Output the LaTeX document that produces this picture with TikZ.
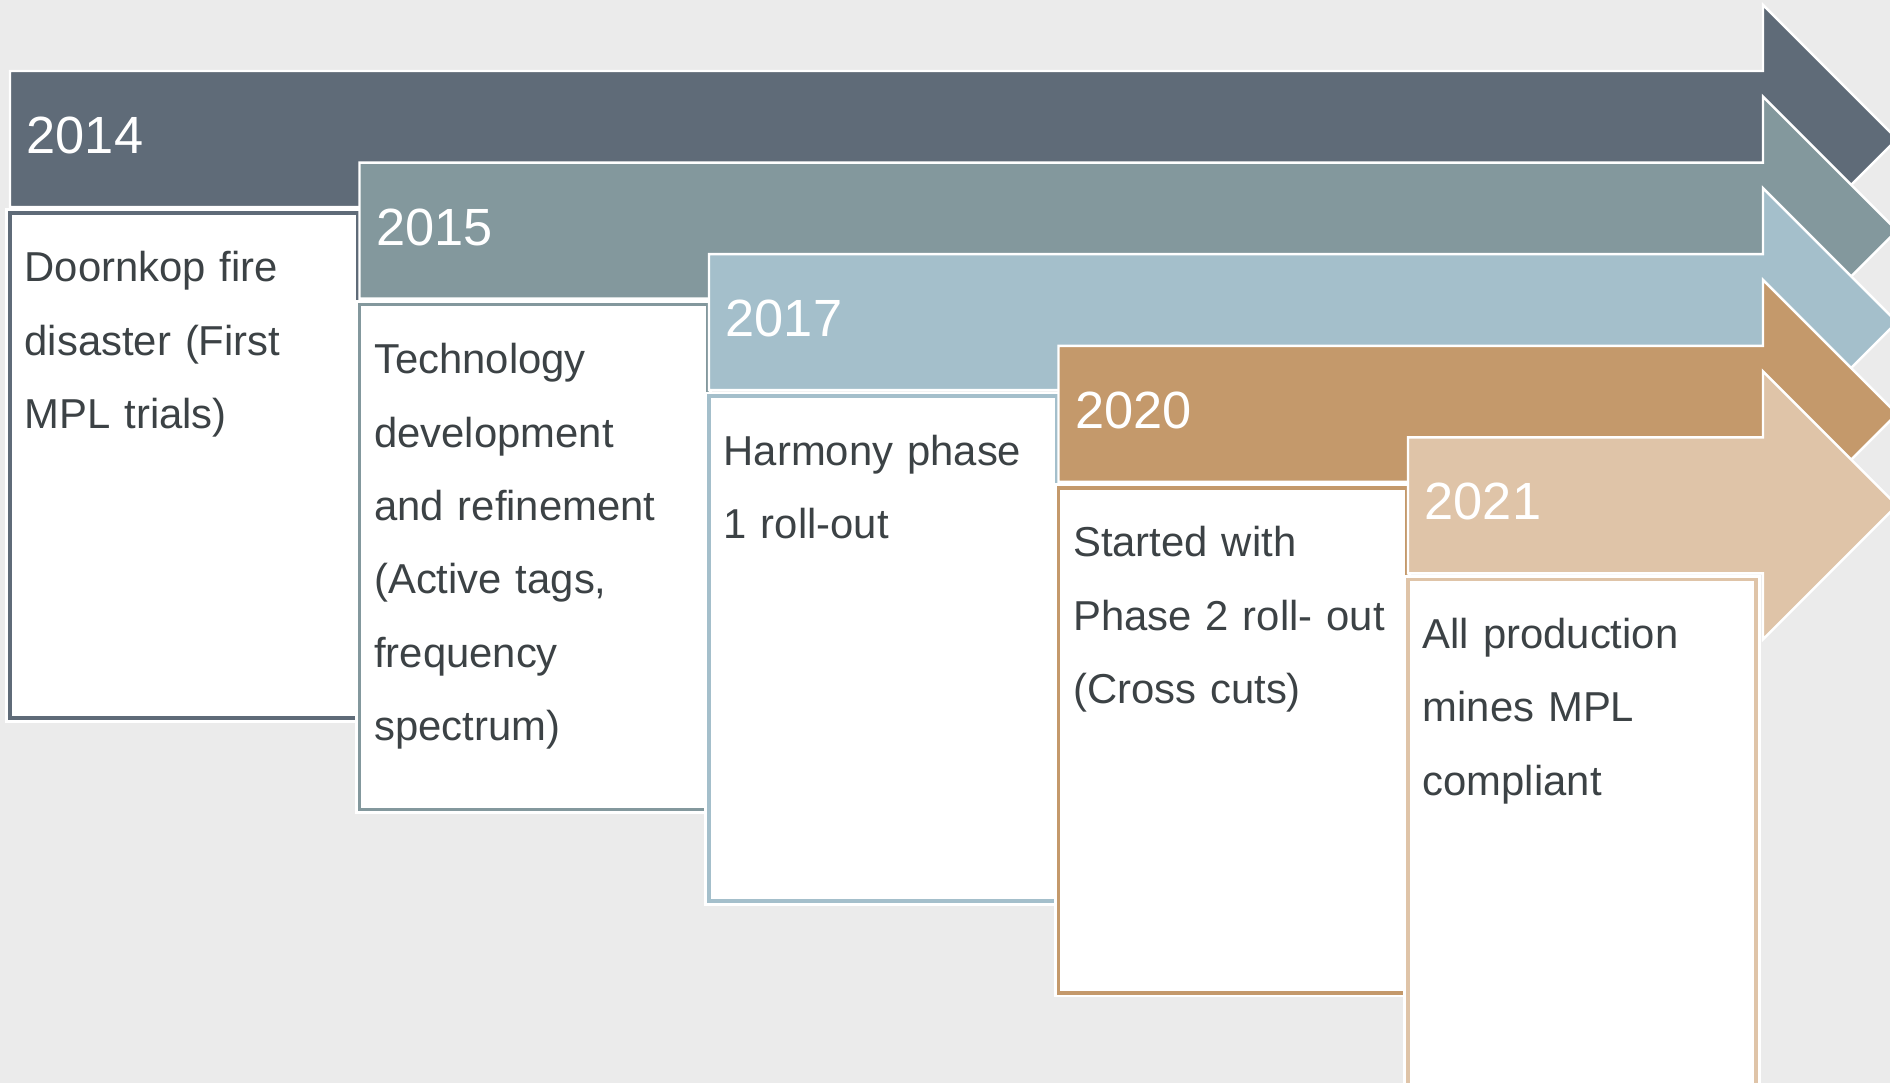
\documentclass[tikz,border=0pt]{standalone}
\usepackage{fontspec}
\setmainfont{Liberation Sans}

\definecolor{paper}{HTML}{EBEBEB}
\definecolor{c14}{HTML}{5F6B78}
\definecolor{c15}{HTML}{83989D}
\definecolor{c17}{HTML}{A4BFCB}
\definecolor{c20}{HTML}{C4996B}
\definecolor{c21}{HTML}{DFC4A8}
\definecolor{ink}{HTML}{3C4245}

\begin{document}
\begin{tikzpicture}[
    yr/.style={anchor=base west, inner sep=0, text=white, font=\fontsize{14.9}{18}\selectfont},
    note/.style={anchor=base west, inner sep=0, text=ink, text width=3.3cm, align=left,
                 font=\fontsize{11.9}{20.9}\selectfont},
    shaft/.style={fill=#1, draw=white, line width=0.7pt, line join=miter},
    card/.style={fill=white, draw=#1, line width=1pt, preaction={draw=white, line width=2.6pt}}
]
    \def\hx{17.63} % back of every arrow head
    \clip (0,0) rectangle (18.9,-10.83);
    \fill[paper] (0,0) rectangle (18.9,-10.83);
    % 2014
    \draw[shaft=c14] (0.10,-0.71) -- (\hx,-0.71) -- ++(0,0.66) -- ++(1.34,-1.34) -- ++(-1.34,-1.34) -- ++(0,0.66) -- (0.10,-2.07) -- cycle;
    \draw[card=c14] (0.10,-2.13) rectangle ++(3.48,-5.05);
    \node[yr] (y14) at (0.26,-1.535) {2014};
    \node[note] (n14) at (0.24,-2.82) {Doornkop fire\\disaster (First\\MPL trials)};
    % 2015
    \draw[shaft=c15] (3.595,-1.626) -- (\hx,-1.626) -- ++(0,0.66) -- ++(1.34,-1.34) -- ++(-1.34,-1.34) -- ++(0,0.66) -- (3.595,-2.986) -- cycle;
    \draw[card=c15] (3.595,-3.046) rectangle ++(3.48,-5.05);
    \node[yr] (y15) at (3.755,-2.451) {2015};
    \node[note] (n15) at (3.735,-3.736) {Technology\\development\\and refinement\\(Active tags,\\frequency\\spectrum)};
    % 2017
    \draw[shaft=c17] (7.09,-2.542) -- (\hx,-2.542) -- ++(0,0.66) -- ++(1.34,-1.34) -- ++(-1.34,-1.34) -- ++(0,0.66) -- (7.09,-3.902) -- cycle;
    \draw[card=c17] (7.09,-3.962) rectangle ++(3.48,-5.05);
    \node[yr] (y17) at (7.25,-3.367) {2017};
    \node[note] (n17) at (7.23,-4.652) {Harmony phase\\1 roll-out};
    % 2020
    \draw[shaft=c20] (10.585,-3.458) -- (\hx,-3.458) -- ++(0,0.66) -- ++(1.34,-1.34) -- ++(-1.34,-1.34) -- ++(0,0.66) -- (10.585,-4.818) -- cycle;
    \draw[card=c20] (10.585,-4.878) rectangle ++(3.48,-5.05);
    \node[yr] (y20) at (10.745,-4.283) {2020};
    \node[note] (n20) at (10.725,-5.568) {Started with\\Phase 2 roll- out\\(Cross cuts)};
    % 2021
    \draw[shaft=c21] (14.08,-4.374) -- (\hx,-4.374) -- ++(0,0.66) -- ++(1.34,-1.34) -- ++(-1.34,-1.34) -- ++(0,0.66) -- (14.08,-5.734) -- cycle;
    \draw[card=c21] (14.08,-5.794) rectangle ++(3.48,-5.05);
    \node[yr] (y21) at (14.24,-5.199) {2021};
    \node[note] (n21) at (14.22,-6.484) {All production\\mines MPL\\compliant};
\end{tikzpicture}
\end{document}
